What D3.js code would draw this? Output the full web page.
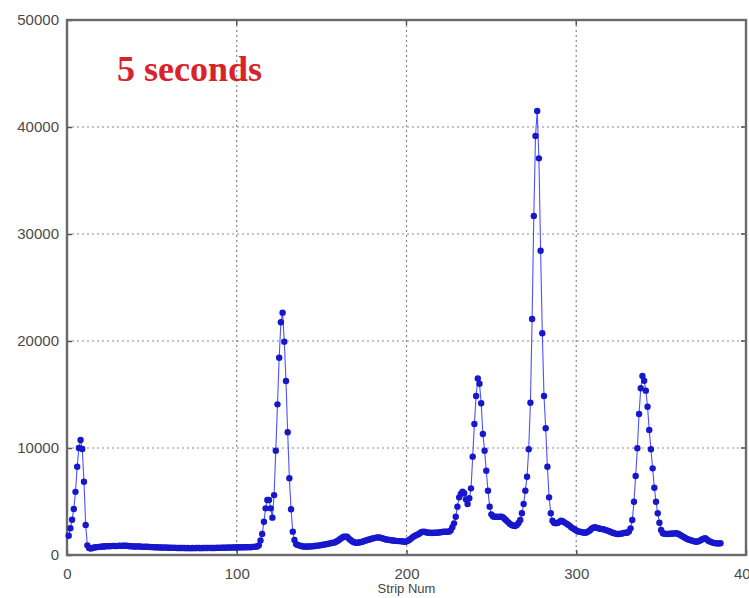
<!DOCTYPE html>
<html>
<head>
<meta charset="utf-8">
<script src="https://cdn.jsdelivr.net/npm/d3@7"></script>
<style>
  html, body { margin: 0; padding: 0; background: #fff; }
  svg { display: block; }
  .tick text { font-family: Arial, "Liberation Sans", sans-serif; font-size: 15px; fill: #4a4a4a; }
</style>
</head>
<body>
<svg id="chart" width="749" height="598"></svg>
<script>
// signal per strip, strips 1..385
const FIRST_STRIP = 1;
const counts = [
  1800, 2500, 3300, 4300, 5900, 8250, 10000, 10750, 9900, 6850, 2800, 900,
  650, 600, 650, 700, 720, 740, 760, 780,
  800, 800, 820, 830, 820, 830, 850, 840, 830, 850,
  860, 850, 870, 880, 860, 840, 820, 830, 800, 790,
  800, 810, 790, 780, 760, 770, 780, 760, 750, 740,
  730, 720, 730, 710, 700, 700, 690, 700, 690, 680,
  680, 670, 680, 670, 660, 660, 650, 660, 650, 640,
  650, 640, 640, 650, 640, 650, 660, 650, 640, 650,
  660, 650, 660, 670, 660, 650, 660, 670, 680, 670,
  680, 690, 680, 690, 700, 690, 700, 710, 700, 720,
  720, 710, 720, 730, 720, 720, 740, 730, 750, 760, 780,
  800, 900, 1350, 1960, 3110, 4360, 5140, 5140, 4360, 3490,
  5600, 9750, 14080, 18440, 21750, 22650, 19940, 16260, 11470, 7170,
  4270, 2180, 1400, 1000, 930, 880, 840, 800, 790, 780,
  790, 800, 810, 820, 840, 860, 880, 900, 930,
  960, 990, 1020, 1050, 1090, 1120, 1150, 1200, 1280, 1380,
  1500, 1620, 1700, 1710, 1700, 1550, 1400, 1280, 1200, 1150,
  1150, 1170, 1200, 1250, 1300, 1350, 1400, 1450, 1500, 1550,
  1580, 1620, 1650, 1650, 1600, 1550, 1500, 1450, 1420, 1400,
  1380, 1350, 1330, 1320, 1300, 1300, 1280, 1260, 1240, 1260,
  1350, 1450, 1580, 1710, 1800, 1870, 1950, 2050, 2150, 2180,
  2150, 2100, 2080, 2080, 2060, 2080, 2080, 2080, 2100, 2120, 2150,
  2180, 2180, 2170, 2180, 2300, 2600, 2960, 3580, 4510, 5390,
  5700, 5920, 5770, 5200, 4770, 5300, 6230, 9190, 12240, 14860,
  16500, 16000, 14180, 11310, 9750, 7880, 6010, 4510, 3800, 3600,
  3580, 3580, 3560, 3580, 3580, 3500, 3350, 3210, 3050,
  2900, 2800, 2740, 2710, 2800, 3000, 3270, 3900, 4770, 6010,
  7320, 9880, 14230, 22060, 31680, 39160, 41500, 37070, 28440, 20720,
  14860, 11840, 8250, 5390, 3900, 3210, 3000, 2960, 3000, 3100,
  3210, 3150, 3050, 2960, 2850, 2750, 2600, 2490, 2400, 2300,
  2200, 2180, 2150, 2100, 2080, 2100, 2200, 2300, 2450, 2550,
  2590, 2550, 2500, 2450, 2420, 2400, 2350, 2300, 2250, 2180,
  2100, 2050, 2000, 1960, 1960, 1980, 2000, 2050, 2080, 2080,
  2200, 2490, 3270, 4980, 7380, 9970, 13180, 15580, 16730, 16290,
  15360, 13860, 11680, 9880, 8100, 6290, 4980, 3900, 3020, 2340,
  2030, 1990, 1970, 1960, 1980, 2000, 2010, 2020, 2030, 1980,
  1900, 1800, 1710, 1620, 1530, 1450, 1400, 1350, 1300, 1260,
  1240, 1280, 1350, 1450, 1530, 1560, 1450, 1320, 1240, 1180,
  1130, 1100, 1090, 1080, 1100
];

const xTicks = [0, 100, 200, 300, 400];
const yTicks = [0, 10000, 20000, 30000, 40000, 50000];
const xLabel = 'Strip Num';
const title = '5 seconds';

const MARGIN = { top: 20, right: 3, bottom: 43, left: 67 };
const W = 749, H = 598;
const width = W - MARGIN.left - MARGIN.right;
const height = H - MARGIN.top - MARGIN.bottom;

const data = counts.map((v, i) => ({ strip: FIRST_STRIP + i, value: v }));

const svg = d3.select('#chart');
const g = svg.append('g').attr('transform', `translate(${MARGIN.left},${MARGIN.top})`);

const x = d3.scaleLinear().domain([0, 400]).range([0, width]);
const y = d3.scaleLinear().domain([0, 50000]).range([height, 0]);

// dotted grid
g.append('g').selectAll('line').data(xTicks.slice(1, -1)).join('line')
    .attr('x1', d => x(d)).attr('x2', d => x(d))
    .attr('y1', 0).attr('y2', height)
    .attr('stroke', '#888').attr('stroke-width', 1.2).attr('stroke-dasharray', '2,3');
g.append('g').selectAll('line').data(yTicks.slice(1, -1)).join('line')
    .attr('y1', d => y(d)).attr('y2', d => y(d))
    .attr('x1', 0).attr('x2', width)
    .attr('stroke', '#888').attr('stroke-width', 1.2).attr('stroke-dasharray', '2,3');

// axes (ticks inward)
const xAxis = g.append('g').attr('transform', `translate(0,${height})`)
    .call(d3.axisBottom(x).tickValues(xTicks).tickSize(-5).tickPadding(13).tickFormat(d3.format('d')));
const yAxis = g.append('g')
    .call(d3.axisLeft(y).tickValues(yTicks).tickSize(-5).tickPadding(8).tickFormat(d3.format('d')));
[xAxis, yAxis].forEach(a => {
    a.select('.domain').remove();
    a.selectAll('.tick line').attr('stroke', '#555').attr('stroke-width', 1.5);
});
g.append('g').selectAll('line').data(xTicks).join('line')
    .attr('x1', d => x(d)).attr('x2', d => x(d)).attr('y1', 0).attr('y2', 5)
    .attr('stroke', '#555').attr('stroke-width', 1.5);
g.append('g').selectAll('line').data(yTicks).join('line')
    .attr('y1', d => y(d)).attr('y2', d => y(d)).attr('x1', width).attr('x2', width - 5)
    .attr('stroke', '#555').attr('stroke-width', 1.5);

// frame
g.append('rect').attr('width', width).attr('height', height)
    .attr('fill', 'none').attr('stroke', '#6a6a6a').attr('stroke-width', 2.4);

// series
const line = d3.line().x(d => x(d.strip)).y(d => y(d.value));
g.append('path').datum(data)
    .attr('fill', 'none').attr('stroke', '#5050ff').attr('stroke-width', 1.1)
    .attr('d', line);
g.append('g').selectAll('circle').data(data).join('circle')
    .attr('cx', d => x(d.strip)).attr('cy', d => y(d.value)).attr('r', 3.2)
    .attr('fill', '#1717cc');

// labels
svg.append('text')
    .attr('x', MARGIN.left + x(200)).attr('y', H - 5)
    .attr('text-anchor', 'middle')
    .attr('font-family', 'Arial, "Liberation Sans", sans-serif')
    .attr('font-size', 13).attr('fill', '#444')
    .text(xLabel);

g.append('text')
    .attr('x', x(29.5)).attr('y', 61)
    .attr('font-family', '"Liberation Serif", "Times New Roman", serif')
    .attr('font-weight', 'bold').attr('font-size', 36).attr('fill', '#d9232a')
    .text(title);
</script>
</body>
</html>
